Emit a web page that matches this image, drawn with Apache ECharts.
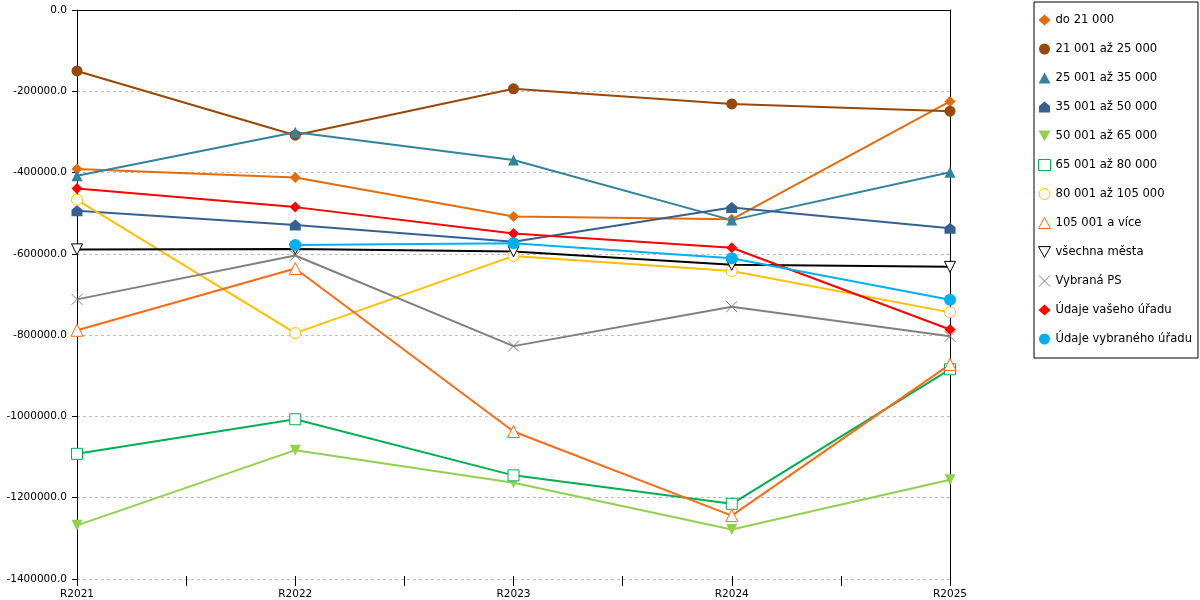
<!DOCTYPE html>
<html>
<head>
<meta charset="utf-8">
<script src="https://cdn.jsdelivr.net/npm/echarts@6/dist/echarts.min.js"></script>
<style>
  html, body { margin: 0; padding: 0; background: #fff; }
  #chart { width: 1200px; height: 600px; }
</style>
</head>
<body>
<div id="chart"></div>
<script>
// categories (x axis)
const years = ["R2021", "R2022", "R2023", "R2024", "R2025"];

// series names
const names = [
    "do 21 000", "21 001 až 25 000", "25 001 až 35 000", "35 001 až 50 000",
    "50 001 až 65 000", "65 001 až 80 000", "80 001 až 105 000", "105 001 a více",
    "všechna města", "Vybraná PS", "Údaje vašeho úřadu", "Údaje vybraného úřadu"
];

// values
const do21    = [-391000, -412000, -508000, -515000, -225000];
const do25    = [-150000, -308000, -194000, -231000, -249000];
const do35    = [-408000, -301000, -369000, -517000, -399000];
const do50    = [-494000, -529000, -570000, -486000, -537000];
const do65    = [-1268000, -1083000, -1163000, -1278000, -1156000];
const do80    = [-1092000, -1007000, -1145000, -1215000, -884000];
const do105   = [-467000, -795000, -605000, -642000, -744000];
const nad105  = [-788000, -636000, -1037000, -1244000, -872000];
const vsechna = [-589000, -588000, -594000, -627000, -632000];
const vybPS   = [-712000, -604000, -827000, -730000, -803000];
const vasUrad = [-439000, -485000, -550000, -585000, -786000];
const vybUrad = [null, -578000, -574000, -611000, -713000];

const values = [do21, do25, do35, do50, do65, do80, do105, nad105, vsechna, vybPS, vasUrad, vybUrad];

// y ticks
const yMin = -1400000, yMax = 0, yStep = 200000;

const DOWN = 'path://M0,0 L10,0 L5,9 Z';
const HOUSE = 'path://M5,0 L10,4 L10,10 L0,10 L0,4 Z';
const CROSS = 'path://M0,0 L10,10 M10,0 L0,10';

// marker / line look per series
const looks = [
    { c: '#E46C0A', sym: 'diamond', fill: true, size: 11 },
    { c: '#984807', sym: 'circle', fill: true, size: 11 },
    { c: '#31849B', sym: 'triangle', fill: true, size: 11 },
    { c: '#376092', sym: HOUSE, fill: true, size: 11 },
    { c: '#92D050', sym: DOWN, fill: true, size: 11 },
    { c: '#00B050', sym: 'rect', fill: false, size: 11 },
    { c: '#FFC000', sym: 'circle', fill: false, size: 11 },
    { c: '#FF6A13', sym: 'triangle', fill: false, size: 12 },
    { c: '#000000', sym: DOWN, fill: false, size: 11 },
    { c: '#808080', sym: CROSS, fill: false, size: 11, none: true },
    { c: '#FF0000', sym: 'diamond', fill: true, size: 11 },
    { c: '#00B0F0', sym: 'circle', fill: true, size: 12 }
];

function itemStyleOf(l) {
    if (l.fill) return { color: l.c, borderWidth: 0 };
    return { color: l.none ? 'transparent' : '#fff', borderColor: l.c, borderWidth: 1 };
}

const chart = echarts.init(document.getElementById('chart'));

const series = names.map((n, i) => ({
    name: n,
    type: 'line',
    xAxisIndex: 0,
    yAxisIndex: 0,
    data: values[i].map((v, j) => [j, v]),
    symbol: looks[i].sym,
    symbolSize: looks[i].size,
    showSymbol: true,
    connectNulls: false,
    animation: false,
    itemStyle: itemStyleOf(looks[i]),
    lineStyle: { color: looks[i].c, width: 2 },
    emphasis: { disabled: true }
}));

const axisFont = { fontFamily: 'DejaVu Sans', fontSize: 10.5, color: '#000' };

chart.setOption({
    backgroundColor: '#fff',
    animation: false,
    textStyle: { fontFamily: 'DejaVu Sans', fontSize: 12, color: '#000' },
    grid: { left: 77, right: 250, top: 10, bottom: 21, containLabel: false, outerBoundsMode: 'none' },
    legend: {
        orient: 'vertical',
        left: 1034,
        top: 2,
        padding: [11, 6, 12, 4],
        itemGap: 15,
        itemWidth: 12,
        itemHeight: 11,
        borderColor: '#000',
        borderWidth: 1,
        selectedMode: false,
        textStyle: { fontFamily: 'DejaVu Sans', fontSize: 11.6, color: '#000', lineHeight: 14 },
        data: names.map((n, i) => ({
            name: n,
            icon: looks[i].sym,
            itemStyle: itemStyleOf(looks[i])
        }))
    },
    xAxis: [
        {
            type: 'value',
            min: 0,
            max: years.length - 1,
            interval: 0.5,
            position: 'bottom',
            axisLine: { show: false, onZero: false },
            axisTick: { show: true, length: 7, lineStyle: { color: '#000' } },
            splitLine: { show: false },
            axisLabel: Object.assign({
                margin: 10,
                formatter: v => Number.isInteger(v) ? years[v] : ''
            }, axisFont)
        },
        {
            type: 'value',
            min: 0,
            max: years.length - 1,
            position: 'top',
            axisLine: { show: true, onZero: false, lineStyle: { color: '#000', width: 1 } },
            axisTick: { show: false },
            axisLabel: { show: false },
            splitLine: { show: false }
        },
        {
            // short inner part of the crossing ticks
            type: 'value',
            min: 0,
            max: years.length - 1,
            interval: 0.5,
            position: 'bottom',
            axisLine: { show: false, onZero: false },
            axisTick: { show: true, inside: true, length: 3, lineStyle: { color: '#000' } },
            axisLabel: { show: false },
            splitLine: { show: false }
        }
    ],
    yAxis: [
        {
            type: 'value',
            min: yMin,
            max: yMax,
            interval: yStep,
            position: 'left',
            axisLine: { show: true, onZero: false, lineStyle: { color: '#000', width: 1 } },
            axisTick: { show: true, length: 5, lineStyle: { color: '#000' } },
            splitLine: { show: true, lineStyle: { color: '#BFBFBF', type: [3, 3], width: 1 } },
            axisLabel: Object.assign({
                margin: 10,
                formatter: v => v.toFixed(1)
            }, axisFont)
        },
        {
            type: 'value',
            min: yMin,
            max: yMax,
            interval: yStep,
            position: 'right',
            axisLine: { show: true, onZero: false, lineStyle: { color: '#000', width: 1 } },
            axisTick: { show: false },
            axisLabel: { show: false },
            splitLine: { show: false }
        }
    ],
    series: series
});
</script>
</body>
</html>
